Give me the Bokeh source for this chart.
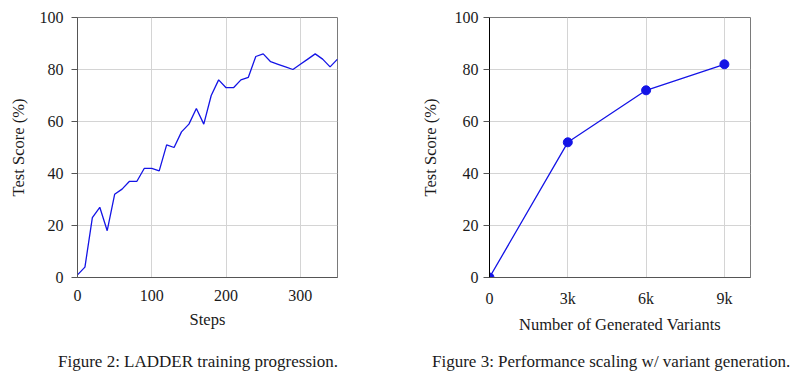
from bokeh.plotting import figure
from bokeh.layouts import row, column
from bokeh.models import Div, FixedTicker, Range1d
from bokeh.embed import file_html
from bokeh.resources import INLINE

# ---- data ----
steps = [0, 10, 20, 30, 40, 50, 60, 70, 80, 90, 100, 110, 120, 130, 140, 150, 160, 170,
         180, 190, 200, 210, 220, 230, 240, 250, 260, 270, 280, 290, 300, 310, 320, 330, 340, 350]
train_scores = [1, 4, 23, 27, 18, 32, 34, 37, 37, 42, 42, 41, 51, 50, 56, 59, 65, 59,
                70, 76, 73, 73, 76, 77, 85, 86, 83, 82, 81, 80, 82, 84, 86, 84, 81, 84]

variants = [0, 3000, 6000, 9000]
variant_scores = [0, 52, 72, 82]
variant_tick_labels = ["0", "3k", "6k", "9k"]

y_ticks = [0, 20, 40, 60, 80, 100]
step_ticks = [0, 100, 200, 300]

caption_left = "Figure 2: LADDER training progression."
caption_right = "Figure 3: Performance scaling w/ variant generation."

FONT = "Liberation Serif"
BLUE = "#1414e6"
TEXT = "#1a1a1a"


def style(p, x_label_standoff, y_label_standoff, y_tick_standoff):
    p.outline_line_color = "#7a7a7a"
    p.outline_line_width = 1
    for ax in (p.xaxis[0], p.yaxis[0]):
        ax.major_label_text_font = FONT
        ax.major_label_text_font_size = "16px"
        ax.major_label_text_color = TEXT
        ax.axis_label_text_font = FONT
        ax.axis_label_text_font_size = "16.5px"
        ax.axis_label_text_font_style = "normal"
        ax.axis_label_text_color = TEXT
        ax.minor_tick_line_color = None
        ax.major_tick_line_color = "#555555"
        ax.axis_line_color = "#555555"
    p.xaxis.major_tick_in = 0
    p.xaxis.major_tick_out = 0
    p.xaxis.major_label_standoff = 12
    p.xaxis.axis_label_standoff = x_label_standoff
    p.yaxis.major_tick_in = 0
    p.yaxis.major_tick_out = 6
    p.yaxis.major_label_standoff = y_tick_standoff
    p.yaxis.axis_label_standoff = y_label_standoff
    p.xgrid.grid_line_color = "#d4d4d4"
    p.ygrid.grid_line_color = "#d4d4d4"


def caption_div(text, width, left):
    return Div(text=text, width=width, height=24, margin=(6, 0, 0, left),
               styles={"font-family": FONT, "font-size": "17px", "color": TEXT,
                       "line-height": "20px", "white-space": "nowrap"})


H = 346

# ---- left chart ----
p1 = figure(width=392, height=H, output_backend="svg", toolbar_location=None,
            x_range=Range1d(0, 350), y_range=Range1d(0, 100),
            min_border_left=77, min_border_right=55, min_border_top=17, min_border_bottom=H - 277)
p1.line(steps, train_scores, line_color=BLUE, line_width=1.3)
p1.xaxis.ticker = FixedTicker(ticks=step_ticks)
p1.yaxis.ticker = FixedTicker(ticks=y_ticks)
p1.xaxis.axis_label = "Steps"
p1.yaxis.axis_label = "Test Score (%)"
style(p1, x_label_standoff=6, y_label_standoff=9, y_tick_standoff=8)

# ---- right chart ----
p2 = figure(width=400, height=H, output_backend="svg", toolbar_location=None,
            x_range=Range1d(0, 10000), y_range=Range1d(0, 100),
            min_border_left=97, min_border_right=42, min_border_top=17, min_border_bottom=H - 277)
p2.line(variants, variant_scores, line_color=BLUE, line_width=1.3)
p2.scatter(variants, variant_scores, size=9, fill_color=BLUE, line_color=BLUE)
p2.xaxis.ticker = FixedTicker(ticks=variants)
p2.xaxis.major_label_overrides = {v: l for v, l in zip(variants, variant_tick_labels)}
p2.yaxis.ticker = FixedTicker(ticks=y_ticks)
p2.xaxis.axis_label = "Number of Generated Variants"
p2.yaxis.axis_label = "Test Score (%)"
style(p2, x_label_standoff=5, y_label_standoff=12, y_tick_standoff=5)
p2.yaxis.axis_line_color = "black"

captions = row(caption_div(caption_left, 334, 58), caption_div(caption_right, 392, 40))
layout = column(row(p1, p2), captions)
open("out.html", "w").write(file_html(layout, INLINE))
